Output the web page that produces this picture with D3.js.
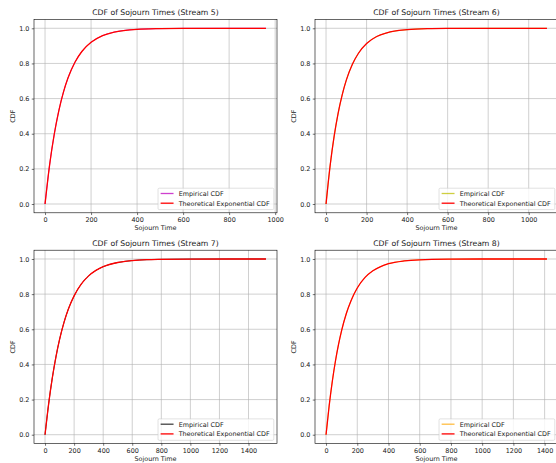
<!DOCTYPE html>
<html>
<head>
<meta charset="utf-8">
<script src="https://cdn.jsdelivr.net/npm/d3@7"></script>
<style>
  html, body { margin: 0; padding: 0; background: #ffffff; }
  svg { display: block; }
  text { font-family: "DejaVu Sans", sans-serif; fill: #1a1a1a; }
</style>
</head>
<body>
<svg id="chart" width="556" height="463"></svg>
<script>
// Stream identifiers and the colour of each empirical CDF line
const streams = ["5", "6", "7", "8"];
const empiricalColors = ["#bf00bf", "#bfbf00", "#000000", "#ffa500"];

// Sojourn time samples (x) and CDF values for each stream
const stream5Time = [0, 20, 40, 60, 80, 100, 130, 160, 200, 250, 300, 400, 500, 600, 800, 960];
const stream5Cdf  = [0, 0.224, 0.397, 0.532, 0.637, 0.718, 0.807, 0.868, 0.920, 0.958, 0.978, 0.994, 0.998, 0.9995, 1.0, 1.0];

const stream6Time = [0, 20, 40, 60, 80, 100, 130, 160, 200, 250, 300, 400, 500, 600, 800, 1090];
const stream6Cdf  = [0, 0.217, 0.386, 0.519, 0.623, 0.705, 0.795, 0.858, 0.913, 0.953, 0.974, 0.992, 0.998, 0.9993, 1.0, 1.0];

const stream7Time = [0, 25, 50, 75, 100, 130, 160, 200, 250, 300, 350, 400, 500, 600, 700, 800, 1000, 1520];
const stream7Cdf  = [0, 0.177, 0.323, 0.443, 0.542, 0.638, 0.714, 0.790, 0.858, 0.904, 0.935, 0.956, 0.980, 0.991, 0.996, 0.998, 0.9996, 1.0];

const stream8Time = [0, 20, 40, 60, 80, 100, 130, 160, 200, 250, 300, 350, 400, 500, 600, 800, 1000, 1415];
const stream8Cdf  = [0, 0.165, 0.303, 0.418, 0.514, 0.594, 0.690, 0.763, 0.835, 0.895, 0.933, 0.957, 0.973, 0.989, 0.9955, 0.999, 1.0, 1.0];

// Tick values
const xTicksStream5 = [0, 200, 400, 600, 800, 1000];
const xTicksStream6 = [0, 200, 400, 600, 800, 1000];
const xTicksStream7 = [0, 200, 400, 600, 800, 1000, 1200, 1400];
const xTicksStream8 = [0, 200, 400, 600, 800, 1000, 1200, 1400];
const yTicks = [0, 0.2, 0.4, 0.6, 0.8, 1.0];

// Text
const titlePrefix = "CDF of Sojourn Times (Stream ";
const xLabel = "Sojourn Time";
const yLabel = "CDF";
const legendLabels = ["Empirical CDF", "Theoretical Exponential CDF"];

const times = [stream5Time, stream6Time, stream7Time, stream8Time];
const cdfs = [stream5Cdf, stream6Cdf, stream7Cdf, stream8Cdf];
const xTicks = [xTicksStream5, xTicksStream6, xTicksStream7, xTicksStream8];

// Panel geometry (2 x 2 grid)
const panelW = 243;
const colLeft = [34, 315];
const rowTop = [19.5, 250.2];
const panelH = 193.3;

const fontTick = 6.43;
const fontTitle = 7.72;

const svg = d3.select("#chart");

streams.forEach((s, i) => {
  const left = colLeft[i % 2];
  const top = rowTop[Math.floor(i / 2)];
  const tx = times[i];
  const cy = cdfs[i];
  const pts = tx.map((t, k) => [t, cy[k]]);

  const xMax = d3.max(tx), xMin = d3.min(tx);
  const span = xMax - xMin;
  const x = d3.scaleLinear()
    .domain([xMin - 0.05 * span, xMax + 0.05 * span])
    .range([left, left + panelW]);
  const y = d3.scaleLinear()
    .domain([-0.05, 1.05])
    .range([top + panelH, top]);

  const g = svg.append("g");
  const clipId = "clip" + s;
  g.append("clipPath").attr("id", clipId)
    .append("rect").attr("x", left).attr("y", top)
    .attr("width", panelW).attr("height", panelH);

  // Grid
  const grid = g.append("g");
  grid.selectAll("line.gx").data(xTicks[i]).join("line")
    .attr("x1", d => x(d)).attr("x2", d => x(d))
    .attr("y1", top).attr("y2", top + panelH)
    .attr("stroke", "#b0b0b0").attr("stroke-width", 0.6);
  grid.selectAll("line.gy").data(yTicks).join("line")
    .attr("x1", left).attr("x2", left + panelW)
    .attr("y1", d => y(d)).attr("y2", d => y(d))
    .attr("stroke", "#b0b0b0").attr("stroke-width", 0.6);

  const line = d3.line()
    .x(d => x(d[0])).y(d => y(d[1]))
    .curve(d3.curveMonotoneX);

  const plot = g.append("g").attr("clip-path", `url(#${clipId})`);
  // Empirical CDF (underneath)
  plot.append("path").datum(pts)
    .attr("d", line).attr("fill", "none")
    .attr("stroke", empiricalColors[i]).attr("stroke-opacity", 0.75)
    .attr("stroke-width", 1.0);
  // Theoretical exponential CDF
  plot.append("path").datum(pts)
    .attr("d", line).attr("fill", "none")
    .attr("stroke", "#ff0000").attr("stroke-width", 1.3)
    .attr("stroke-linejoin", "round");

  // Axes
  const xAxis = d3.axisBottom(x).tickValues(xTicks[i])
    .tickFormat(d3.format("d")).tickSize(2.25).tickPadding(2.4);
  const yAxis = d3.axisLeft(y).tickValues(yTicks)
    .tickFormat(d3.format(".1f")).tickSize(2.25).tickPadding(2.4);

  const gx = g.append("g").attr("transform", `translate(0,${top + panelH})`).call(xAxis);
  const gy = g.append("g").attr("transform", `translate(${left},0)`).call(yAxis);
  [gx, gy].forEach(ax => {
    ax.select(".domain").remove();
    ax.selectAll(".tick line").attr("stroke", "#000").attr("stroke-width", 0.55);
    ax.selectAll(".tick text")
      .attr("font-family", "DejaVu Sans")
      .attr("font-size", fontTick)
      .attr("fill", "#1a1a1a");
  });

  // Spines
  g.append("rect")
    .attr("x", left).attr("y", top)
    .attr("width", panelW).attr("height", panelH)
    .attr("fill", "none").attr("stroke", "#000").attr("stroke-width", 0.6);

  // Title and axis labels
  g.append("text")
    .attr("x", left + panelW / 2).attr("y", top - 4.6)
    .attr("text-anchor", "middle").attr("font-size", fontTitle)
    .text(titlePrefix + s + ")");
  g.append("text")
    .attr("x", left + panelW / 2).attr("y", top + panelH + 17.6)
    .attr("text-anchor", "middle").attr("font-size", fontTick)
    .text(xLabel);
  g.append("text")
    .attr("transform", `translate(${left - 18.6},${top + panelH / 2}) rotate(-90)`)
    .attr("text-anchor", "middle").attr("font-size", fontTick)
    .text(yLabel);

  // Legend (lower right)
  const pad = 2.6, handleLen = 12.9, handleGap = 5.1, rowStep = 9.7, axPad = 3.2;
  const leg = g.append("g");
  const box = leg.append("rect");
  const texts = legendLabels.map((lab, k) =>
    leg.append("text").attr("font-size", fontTick).text(lab));
  const tw = d3.max(texts, t => t.node().getComputedTextLength());
  const boxW = pad * 2 + handleLen + handleGap + tw + 1.5;
  const boxH = 21.4;
  const bx = left + panelW - axPad - boxW;
  const by = top + panelH - axPad - boxH;
  box.attr("x", bx).attr("y", by).attr("width", boxW).attr("height", boxH)
    .attr("rx", 1.2).attr("fill", "#ffffff").attr("fill-opacity", 0.8)
    .attr("stroke", "#cccccc").attr("stroke-width", 0.6);
  const legColors = [empiricalColors[i], "#ff0000"];
  const legOpacity = [0.75, 1];
  const legWidth = [1.3, 1.3];
  legendLabels.forEach((lab, k) => {
    const cyk = by + 5.3 + k * rowStep;
    leg.append("line")
      .attr("x1", bx + pad).attr("x2", bx + pad + handleLen)
      .attr("y1", cyk).attr("y2", cyk)
      .attr("stroke", legColors[k]).attr("stroke-opacity", legOpacity[k])
      .attr("stroke-width", legWidth[k]);
    texts[k].attr("x", bx + pad + handleLen + handleGap).attr("y", cyk + 2.3);
  });
});
</script>
</body>
</html>
